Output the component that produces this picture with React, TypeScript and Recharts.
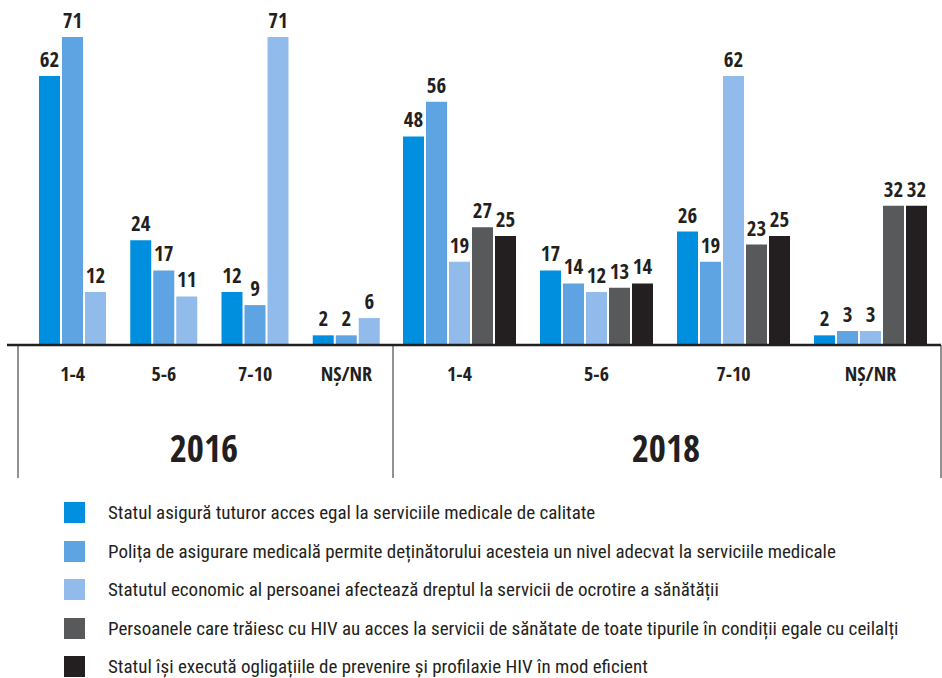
import React from 'react';
import { BarChart, Bar, XAxis, YAxis, LabelList } from 'recharts';

const BOLD_FONT = '"Open Sans Condensed", "Roboto Condensed", sans-serif';
const FONT = '"Roboto Condensed", "Liberation Sans", sans-serif';
const TEXT = '#231f20';

const categories = ['1-4', '5-6', '7-10', 'NȘ/NR'];
const years = ['2016', '2018'];

const seriesNames = [
  'Statul asigură tuturor acces egal la serviciile medicale de calitate',
  'Polița de asigurare medicală permite deținătorului acesteia un nivel adecvat la serviciile medicale',
  'Statutul economic al persoanei afectează dreptul la servicii de ocrotire a sănătății',
  'Persoanele care trăiesc cu HIV au acces la servicii de sănătate de toate tipurile în condiții egale cu ceilalți',
  'Statul își execută ogligațiile de prevenire și profilaxie HIV în mod eficient',
];
const seriesColors = ['#008fdf', '#5ea3e2', '#90bbea', '#58595b', '#231f20'];

// 2016 (three statements asked)
const s1_2016 = [62, 24, 12, 2];
const s2_2016 = [71, 17, 9, 2];
const s3_2016 = [12, 11, 71, 6];

// 2018 (five statements asked)
const s1_2018 = [48, 17, 26, 2];
const s2_2018 = [56, 14, 19, 3];
const s3_2018 = [19, 12, 62, 3];
const s4_2018 = [27, 13, 23, 32];
const s5_2018 = [25, 14, 25, 32];

const data2016 = categories.map((c, i) => ({ cat: c, s1: s1_2016[i], s2: s2_2016[i], s3: s3_2016[i] }));
const data2018 = categories.map((c, i) => ({
  cat: c, s1: s1_2018[i], s2: s2_2018[i], s3: s3_2018[i], s4: s4_2018[i], s5: s5_2018[i],
}));

const MAX = 71;

const renderTick = (props: any) => {
  const { x, y, payload } = props;
  return (
    <text x={x} y={y + 37} textAnchor="middle" fill={TEXT} fontFamily={BOLD_FONT} fontSize={20} fontWeight={700}>
      {payload.value}
    </text>
  );
};

const renderBars = (keys: string[]) =>
  keys.map((k, i) => (
    <Bar key={k} dataKey={k} fill={seriesColors[i]} isAnimationActive={false}>
      <LabelList dataKey={k} position="top" offset={9} fill={TEXT} fontFamily={BOLD_FONT} fontSize={21} fontWeight={700} />
    </Bar>
  ));

export default function App() {
  return (
    <div style={{ position: 'absolute', left: 0, top: 0, width: 942, height: 678, background: '#fff', fontFamily: FONT }}>
      <div style={{ position: 'absolute', left: 0, top: 0 }}>
        <BarChart width={392} height={400} data={data2016} margin={{ top: 37, right: 0, left: 27, bottom: 0 }} barSize={21} barGap={2}>
          <XAxis dataKey="cat" axisLine={false} tickLine={false} tickSize={0} tickMargin={0} height={56} tick={renderTick} interval={0} />
          <YAxis hide domain={[0, MAX]} />
          {renderBars(['s1', 's2', 's3'])}
        </BarChart>
      </div>
      <div style={{ position: 'absolute', left: 391, top: 0 }}>
        <BarChart width={548} height={400} data={data2018} margin={{ top: 37, right: 0, left: 0, bottom: 0 }} barSize={21} barGap={2}>
          <XAxis dataKey="cat" axisLine={false} tickLine={false} tickSize={0} tickMargin={0} height={56} tick={renderTick} interval={0} />
          <YAxis hide domain={[0, MAX]} />
          {renderBars(['s1', 's2', 's3', 's4', 's5'])}
        </BarChart>
      </div>
      <svg width={942} height={480} style={{ position: 'absolute', left: 0, top: 0, pointerEvents: 'none' }}>
        <line x1={18} y1={345} x2={18} y2={478} stroke="#6d6e71" strokeWidth={1.5} />
        <line x1={393} y1={345} x2={393} y2={478} stroke="#6d6e71" strokeWidth={1.5} />
        <line x1={941} y1={345} x2={941} y2={478} stroke="#6d6e71" strokeWidth={1.5} />
        <line x1={7} y1={345} x2={941} y2={345} stroke={TEXT} strokeWidth={2.5} />
        <text x={204} y={462} textAnchor="middle" fill={TEXT} fontFamily={BOLD_FONT} fontSize={37} fontWeight={700}>{years[0]}</text>
        <text x={666} y={462} textAnchor="middle" fill={TEXT} fontFamily={BOLD_FONT} fontSize={37} fontWeight={700}>{years[1]}</text>
      </svg>
      <div style={{ position: 'absolute', left: 64, top: 502 }}>
        {seriesNames.map((n, i) => (
          <div key={n} style={{ position: 'absolute', left: 0, top: i * 38.5, height: 21, display: 'flex', alignItems: 'center', whiteSpace: 'nowrap' }}>
            <div style={{ width: 21, height: 21, background: seriesColors[i], flex: 'none' }} />
            <span style={{ marginLeft: 23, fontSize: 19, color: TEXT, fontFamily: FONT, lineHeight: '21px' }}>{n}</span>
          </div>
        ))}
      </div>
    </div>
  );
}
